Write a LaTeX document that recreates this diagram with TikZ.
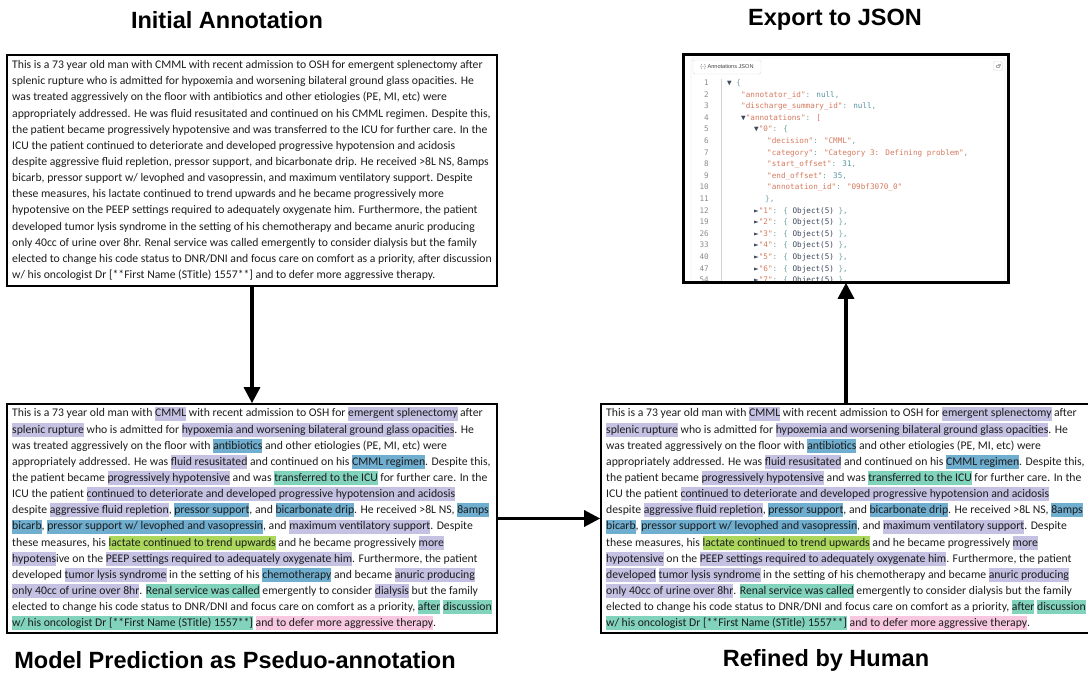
\documentclass[tikz,border=0pt]{standalone}
\usepackage{fontspec}
\usepackage{xcolor}
\usetikzlibrary{arrows.meta}

\newfontfamily\notefont{Carlito}
\newfontfamily\headfont{Liberation Sans}
\newfontfamily\jsonfont{DejaVu Sans Mono}

\definecolor{notetext}{RGB}{28,28,28}
\definecolor{tagpurple}{RGB}{197,193,226}
\definecolor{tagblue}{RGB}{112,174,208}
\definecolor{taggreen}{RGB}{130,211,188}
\definecolor{taglime}{RGB}{170,215,92}
\definecolor{tagpink}{RGB}{248,199,224}
\definecolor{jsonstr}{RGB}{214,122,94}
\definecolor{jsonlit}{RGB}{84,148,160}
\definecolor{jsonpunc}{RGB}{112,162,166}
\definecolor{jsonobj}{RGB}{62,72,92}
\definecolor{jsonnum}{RGB}{140,140,140}

\newcommand{\hlstrut}{\rule[-3.6pt]{0pt}{14pt}}
\newcommand{\hl}[2]{{\setlength{\fboxsep}{0pt}\colorbox{#1}{\hlstrut#2}}}
\newcommand{\jk}[1]{\textcolor{jsonstr}{"#1"}}
\newcommand{\jp}[1]{\textcolor{jsonpunc}{#1}}
\newcommand{\jv}[1]{\textcolor{jsonlit}{#1}}
\newcommand{\jo}[1]{\textcolor{jsonobj}{#1}}

\begin{document}
\begin{tikzpicture}[
		x=1pt, y=1pt,
		every node/.style={inner sep=0pt},
		notebox/.style={draw, line width=1.6pt, align=left, minimum width=490pt,
			minimum height=229pt, text=notetext,
			font=\notefont\fontsize{11.7}{16.15}\selectfont},
		heading/.style={font=\headfont\bfseries\fontsize{23.5}{28}\selectfont},
		flow/.style={line width=3.2pt, -{Triangle[length=16pt,width=16pt]}},
		codeline/.style={anchor=base west, font=\jsonfont\fontsize{7.65}{9}\selectfont},
		lineno/.style={anchor=base east, text=jsonnum, font=\jsonfont\fontsize{7.65}{9}\selectfont}
	]
  \useasboundingbox (0,0) rectangle (1088,678);

  \node (init_title) [heading] at (227,658) {Initial Annotation};
  \node (json_title) [heading] at (835,658) {Export to JSON};
  \node (pred_title) [heading] at (235,18) {Model Prediction as Pseduo-annotation};
  \node (human_title) [heading] at (826,18) {Refined by Human};

  \node (init_box) [notebox, minimum height=231pt] at (252,507.5) {%
This is a 73 year old man with CMML with recent admission to OSH for emergent splenectomy after\\
splenic rupture who is admitted for hypoxemia and worsening bilateral ground glass opacities. He\\
was treated aggressively on the floor with antibiotics and other etiologies (PE, MI, etc) were\\
appropriately addressed. He was fluid resusitated and continued on his CMML regimen. Despite this,\\
the patient became progressively hypotensive and was transferred to the ICU for further care. In the\\
ICU the patient continued to deteriorate and developed progressive hypotension and acidosis\\
despite aggressive fluid repletion, pressor support, and bicarbonate drip. He received >8L NS, 8amps\\
bicarb, pressor support w/ levophed and vasopressin, and maximum ventilatory support. Despite\\
these measures, his lactate continued to trend upwards and he became progressively more\\
hypotensive on the PEEP settings required to adequately oxygenate him. Furthermore, the patient\\
developed tumor lysis syndrome in the setting of his chemotherapy and became anuric producing\\
only 40cc of urine over 8hr. Renal service was called emergently to consider dialysis but the family\\
elected to change his code status to DNR/DNI and focus care on comfort as a priority, after discussion\\
w/ his oncologist Dr [**First Name (STitle) 1557**] and to defer more aggressive therapy.};

  \node (pred_box) [notebox] at (252,159.5) {%
This is a 73 year old man with \hl{tagpurple}{CMML} with recent admission to OSH for \hl{tagpurple}{emergent splenectomy} after\\
\hl{tagpurple}{splenic rupture} who is admitted for \hl{tagpurple}{hypoxemia and worsening bilateral ground glass opacities}. He\\
was treated aggressively on the floor with \hl{tagblue}{antibiotics} and other etiologies (PE, MI, etc) were\\
appropriately addressed. He was \hl{tagpurple}{fluid resusitated} and continued on his \hl{tagblue}{CMML regimen}. Despite this,\\
the patient became \hl{tagpurple}{progressively hypotensive} and was \hl{taggreen}{transferred to the ICU} for further care. In the\\
ICU the patient \hl{tagpurple}{continued to deteriorate and developed progressive hypotension and acidosis}\\
despite \hl{tagpurple}{aggressive fluid repletion}, \hl{tagblue}{pressor support}, and \hl{tagblue}{bicarbonate drip}. He received >8L NS, \hl{tagblue}{8amps}\\
\hl{tagblue}{bicarb}, \hl{tagblue}{pressor support w/ levophed and vasopressin}, and \hl{tagpurple}{maximum ventilatory support}. Despite\\
these measures, his \hl{taglime}{lactate continued to trend upwards} and he became progressively \hl{tagpurple}{more}\\
\hl{tagpurple}{hypotens}ive on the \hl{tagpurple}{PEEP settings required to adequately oxygenate him}. Furthermore, the patient\\
developed \hl{tagpurple}{tumor lysis syndrome} in the setting of his \hl{tagblue}{chemotherapy} and became \hl{tagpurple}{anuric producing}\\
\hl{tagpurple}{only 40cc of urine over 8hr}. \hl{taggreen}{Renal service was called} emergently to consider \hl{tagpurple}{dialysis} but the family\\
elected to change his code status to DNR/DNI and focus care on comfort as a priority, \hl{taggreen}{after} \hl{taggreen}{discussion}\\
\hl{taggreen}{w/ his oncologist Dr [**First Name (STitle) 1557**]} \hl{tagpink}{and to defer more aggressive therapy}.};

  \node (human_box) [notebox] at (846,159.5) {%
This is a 73 year old man with \hl{tagpurple}{CMML} with recent admission to OSH for \hl{tagpurple}{emergent splenectomy} after\\
\hl{tagpurple}{splenic rupture} who is admitted for \hl{tagpurple}{hypoxemia and worsening bilateral ground glass opacities}. He\\
was treated aggressively on the floor with \hl{tagblue}{antibiotics} and other etiologies (PE, MI, etc) were\\
appropriately addressed. He was \hl{tagpurple}{fluid resusitated} and continued on his \hl{tagblue}{CMML regimen}. Despite this,\\
the patient became \hl{tagpurple}{progressively hypotensive} and was \hl{taggreen}{transferred to the ICU} for further care. In the\\
ICU the patient \hl{tagpurple}{continued to deteriorate and developed progressive hypotension and acidosis}\\
despite \hl{tagpurple}{aggressive fluid repletion}, \hl{tagblue}{pressor support}, and \hl{tagblue}{bicarbonate drip}. He received >8L NS, \hl{tagblue}{8amps}\\
\hl{tagblue}{bicarb}, \hl{tagblue}{pressor support w/ levophed and vasopressin}, and \hl{tagpurple}{maximum ventilatory support}. Despite\\
these measures, his \hl{taglime}{lactate continued to trend upwards} and he became progressively \hl{tagpurple}{more}\\
\hl{tagpurple}{hypotensive} on the \hl{tagpurple}{PEEP settings required to adequately oxygenate him}. Furthermore, the patient\\
\hl{tagpurple}{developed} \hl{tagpurple}{tumor lysis syndrome} in the setting of his chemotherapy and became \hl{tagpurple}{anuric producing}\\
\hl{tagpurple}{only 40cc of urine over 8hr}. \hl{taggreen}{Renal service was called} emergently to consider dialysis but the family\\
elected to change his code status to DNR/DNI and focus care on comfort as a priority, \hl{taggreen}{after} \hl{taggreen}{discussion}\\
\hl{taggreen}{w/ his oncologist Dr [**First Name (STitle) 1557**]} \hl{tagpink}{and to defer more aggressive therapy}.};

  \node (json_box) [draw, line width=1.6pt, fill=white, minimum width=324pt, minimum height=227pt] at (846,509.5) {};
  \begin{scope}
    \clip (685,397) rectangle (1007,622);
    \draw [gray!25, rounded corners=3pt] (691,620) rectangle (1005,380);
    \node (json_tab) [draw=gray!30, rounded corners=2pt, minimum width=68pt, minimum height=14pt,
      font=\headfont\fontsize{5.6}{6}\selectfont, text=black!75] at (727,611) {\textcolor{gray}{\{-\}}\ Annotations JSON};
    \node (json_copy) [draw=gray!30, rounded corners=1.5pt, minimum size=9pt] at (998,612) {};
    \draw [gray!60, line width=0.4pt] (996.5,610.5) rectangle (999,613) (997.5,613.5) -- (1000,613.5) -- (1000,611.5);
    \draw [gray!35] (721,599) -- (721,380);
    \foreach \n [count=\r from 0] in {1,...,11,12,19,26,33,40,47,54}
      \node (ln_\r) [lineno] at (709,592.5-11.6*\r) {\n};
    \node (js_0) [codeline] at (727,592.5) {\jo{▼} \jp{\{}};
    \node (js_1) [codeline] at (741,580.9) {\jk{annotator\_id}\jp{:} \jv{null}\jp{,}};
    \node (js_2) [codeline] at (741,569.3) {\jk{discharge\_summary\_id}\jp{:} \jv{null}\jp{,}};
    \node (js_3) [codeline] at (741,557.7) {\jo{▼}\jk{annotations}\jp{:} \textcolor{jsonstr}{[}};
    \node (js_4) [codeline] at (754,546.1) {\jo{▼}\jk{0}\jp{: \{}};
    \node (js_5) [codeline] at (767,534.5) {\jk{decision}\jp{:} \jk{CMML}\jp{,}};
    \node (js_6) [codeline] at (767,522.9) {\jk{category}\jp{:} \jk{Category 3: Defining problem}\jp{,}};
    \node (js_7) [codeline] at (767,511.3) {\jk{start\_offset}\jp{:} \jv{31}\jp{,}};
    \node (js_8) [codeline] at (767,499.7) {\jk{end\_offset}\jp{:} \jv{35}\jp{,}};
    \node (js_9) [codeline] at (767,488.1) {\jk{annotation\_id}\jp{:} \jk{09bf3070\_0}};
    \node (js_10) [codeline] at (765,476.5) {\jp{\},}};
    \foreach \k [count=\r from 11] in {1,...,7}
      \node (js_\r) [codeline] at (754,592.5-11.6*\r) {\jo{►}\jk{\k}\jp{: \{} \jo{Object(5)} \jp{\},}};
  \end{scope}
  \draw [line width=1.6pt] (json_box.south west) rectangle (json_box.north east);

  \draw [flow] (init_box) -- (pred_box);
  \draw [flow] (pred_box) -- (human_box);
  \draw [flow] (human_box) -- (json_box);
\end{tikzpicture}
\end{document}
